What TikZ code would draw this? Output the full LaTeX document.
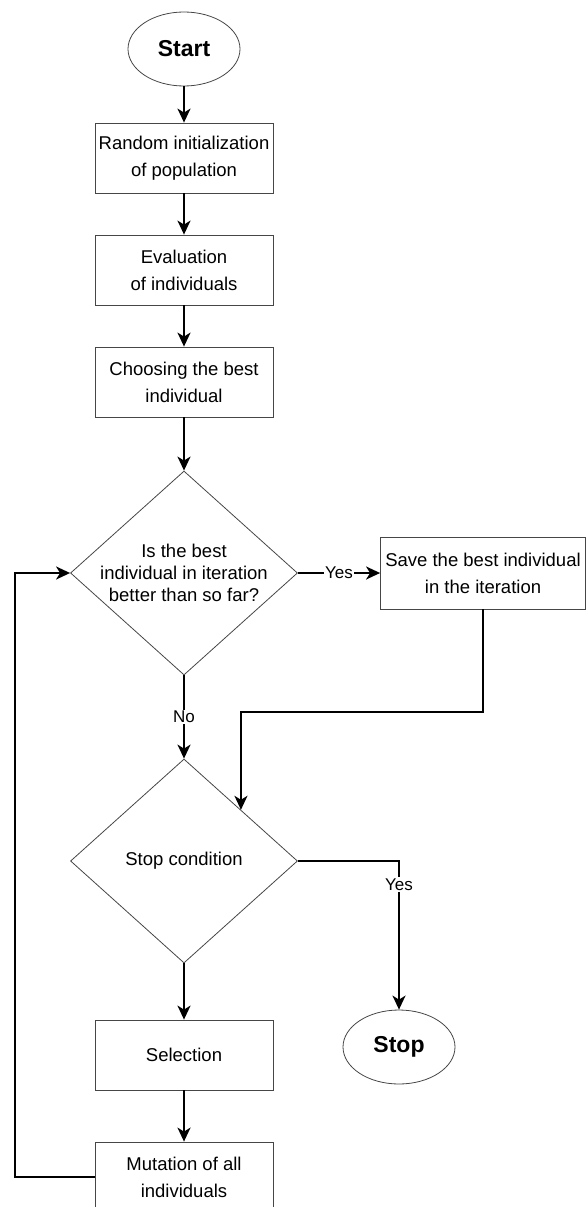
\documentclass[tikz,border=0pt]{standalone}
\usepackage{fontspec}
\setmainfont{Liberation Sans}
\usetikzlibrary{positioning,arrows.meta,shapes.geometric}
\definecolor{EdgeGray}{RGB}{70,70,70}

\begin{document}
\begin{tikzpicture}[x=1pt, y=1pt,
  every node/.style={align=center, font=\fontsize{18.5}{27}\selectfont},
  procbox/.style={draw=EdgeGray, line width=0.8pt, minimum width=178pt, minimum height=70pt, inner sep=2pt},
  terminal/.style={draw=EdgeGray, ellipse, line width=0.8pt, minimum width=112pt, minimum height=74pt, font=\fontsize{23}{27}\selectfont\bfseries},
  decision/.style={draw=EdgeGray, diamond, line width=0.8pt, minimum width=227pt, minimum height=204pt, inner sep=0pt},
  flow/.style={-{Stealth[length=14pt, width=13pt, inset=4pt]}, line width=2pt},
  answer/.style={fill=white, inner sep=1.5pt, font=\fontsize{17}{20}\selectfont}]
  \useasboundingbox (0,0) rectangle (586,-1207);
  \clip (0,0) rectangle (586,-1207);
  \node[terminal] (start) at (184,-49) {Start};
  \node[procbox] (init) at (184,-158) {Random initialization\\of population};
  \node[procbox] (eval) at (184,-270) {Evaluation\\of individuals};
  \node[procbox] (choose) at (184,-382) {Choosing the best\\individual};
  \node[decision, label={[font=\fontsize{18.5}{22}\selectfont]center:Is the best\\individual in iteration\\better than so far?}] (best) at (184,-573) {};
  \node[procbox, minimum width=205pt, minimum height=72pt] (save) at (483,-573) {Save the best individual\\in the iteration};
  \node[decision, label={center:Stop condition}] (cond) at (184,-861) {};
  \node[terminal] (stop) at (399,-1047) {Stop};
  \node[procbox] (sel) at (184,-1055) {Selection};
  \node[procbox] (mut) at (184,-1177) {Mutation of all\\individuals};
  \draw[flow] (start) -- (init);
  \draw[flow] (init) -- (eval);
  \draw[flow] (eval) -- (choose);
  \draw[flow] (choose) -- (best);
  \draw[flow] (best.east) -- node[answer]{Yes} (save.west);
  \draw[flow] (best.south) -- node[answer]{No} (cond.north);
  \draw[flow] (save.south) -- ++(0,-103) -| (cond.north east);
  \draw[flow] (cond.east) -| node[answer, pos=0.58]{Yes} (stop.north);
  \draw[flow] (cond.south) -- (sel.north);
  \draw[flow] (sel) -- (mut);
  \draw[flow] (mut.west) -- ++(-80,0) |- (best.west);
\end{tikzpicture}
\end{document}
